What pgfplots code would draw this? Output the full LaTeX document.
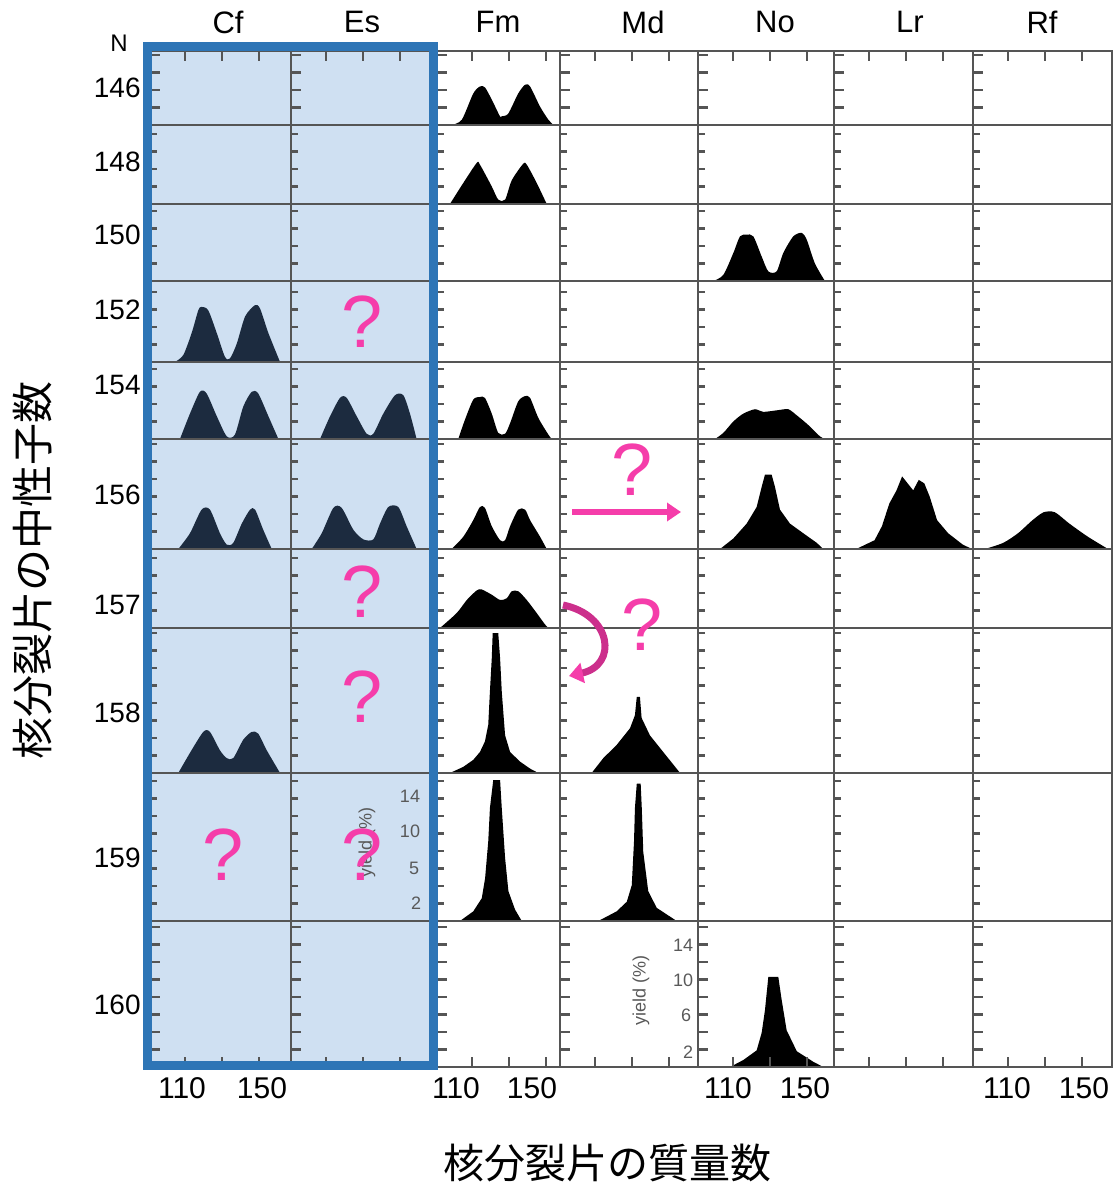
\documentclass[border=0pt]{standalone}
\usepackage{fontspec}
\setmainfont{Liberation Sans}
\newfontfamily\cjk{Noto Sans CJK JP}
\usepackage{pgfplots}
\pgfplotsset{compat=1.18}
\usetikzlibrary{arrows.meta}
\definecolor{lbg}{HTML}{CFE0F2}
\definecolor{bbox}{HTML}{2E75B6}
\definecolor{navy}{HTML}{1C2B3F}
\definecolor{qpink}{HTML}{F53DAA}
\definecolor{qmag}{HTML}{CC2F8C}
\definecolor{gline}{HTML}{555555}
\pgfplotsset{cell/.style={scale only axis, axis line style={gline, line width=1.25pt},
  xtick=\empty, ytick={2,4,...,16}, yticklabels={}, xticklabels={}, ytick pos=left,
  tick align=inside, major tick length=3.5pt, tick style={gline, line width=1.1pt},
  xmin=91, ymin=0, clip=true},
  hump/.style={smooth, tension=0.45}}
% #1 column index, #2 row index, #3 options, #4 plots
\newcommand\cell[4]{%
 \pgfmathsetmacro\cL{{150,291,437,560,698,834,973}[#1]}%
 \pgfmathsetmacro\cW{{141,146,123,138,136,139,139}[#1]}%
 \pgfmathsetmacro\rT{{51,125,204,281,362,439,549,628,773,921}[#2]}%
 \pgfmathsetmacro\rH{{74,79,77,81,77,110,79,145,148,146}[#2]}%
 \pgfmathsetmacro\cXmax{91+\cW/1.85}%
 \pgfmathsetmacro\cYmax{\rH/8.75}%
 \pgfmathsetmacro\cWpt{\cW*0.5}%
 \pgfmathsetmacro\rHpt{\rH*0.5}%
 \pgfmathsetmacro\cLpt{\cL*0.5}%
 \pgfmathsetmacro\rTpt{-\rT*0.5}%
 \begin{axis}[cell, at={(\cLpt pt,\rTpt pt)}, anchor=north west,
   width=\cWpt pt, height=\rHpt pt, xmax=\cXmax, ymax=\cYmax, #3]
 #4
 \end{axis}}
\newcommand\dcell[4]{\cell{#1}{#2}{hide axis}{\addplot[draw=none,#3] coordinates {#4} \closedcycle;}}
\begin{document}
\begin{tikzpicture}[x=0.5pt,y=0.5pt]
\useasboundingbox (0,0) rectangle (1115,-1186);
\fill[lbg] (147,-46) rectangle (434,-1066);
% ---------- fission fragment mass yields (mass number, yield %) ----------
% Cf
\dcell{0}{3}{fill=navy,hump}{(104.5,0)(109,0.8)(113.5,3.3)(117.1,5.9)(118.9,6.3)(122.5,5.9)(127.1,3.3)(131.5,0.6)(134.2,0.4)(137.9,2.1)(142.4,5.2)(147.8,6.5)(150.5,6.1)(155,3.3)(161.3,0)}
\dcell{0}{4}{fill=navy,hump}{(107.2,0)(112.6,2.9)(118,5.4)(121.6,5.2)(127.1,2.6)(132.5,0.3)(136.9,0.5)(141.4,3.7)(146,5.4)(149.5,5.2)(155,2.6)(160.4,0)}
\dcell{0}{5}{fill=navy,hump}{(106.3,0)(112.6,1.8)(118.9,4.5)(123.4,4.5)(128.8,1.8)(132.5,0.5)(136,0.7)(140.6,2.9)(145.1,4.5)(147.8,4.5)(152.2,2.2)(156.8,0)}
\dcell{0}{7}{fill=navy,hump}{(106.3,0)(112.6,2.3)(119.8,4.7)(123.4,4.7)(128.8,2.6)(132.5,1.7)(136,1.7)(141.4,3.8)(146,4.7)(149.5,4.5)(154.1,2.6)(161.3,0)}
% Es
\dcell{1}{4}{fill=navy,hump}{(106.7,0)(112.1,2.6)(117.5,4.7)(121.1,4.7)(126.5,2.6)(131.9,0.6)(135.5,0.6)(140.9,2.9)(147.2,5.0)(151.7,5.0)(155.3,2.9)(158.9,0)}
\dcell{1}{5}{fill=navy,hump}{(102.2,0)(107.6,1.8)(113.9,4.7)(118.4,4.7)(124.7,2.2)(130.1,1.1)(135.5,1.1)(139.1,2.9)(143.6,4.8)(149,4.8)(153.5,2.6)(158.9,0)}
% Fm
\dcell{2}{0}{fill=black,hump}{(98.9,0)(104.4,0.6)(110.6,3.6)(114.2,4.4)(116.9,4.3)(120.6,2.9)(125,1.0)(126,1.0)(129.5,1.3)(134.9,3.6)(138.6,4.6)(141.3,4.4)(146.7,2.1)(151.2,0.6)(154,0)}
\dcell{2}{1}{fill=black,hump}{(98,0)(105.2,2.4)(112.5,4.7)(114.2,4.5)(120.6,2.0)(124.1,0.5)(127.8,0.5)(131.4,2.7)(137.6,4.6)(139.5,4.5)(144.9,2.4)(150.3,0)}
\dcell{2}{4}{fill=black,hump}{(102.5,0)(106.1,2.2)(110.6,4.5)(114.2,4.8)(116.9,4.7)(120.6,2.9)(124.1,0.7)(127.8,0.6)(130.5,1.8)(134.9,4.3)(138.6,4.9)(141.3,4.7)(145.8,2.4)(151.2,0.5)(153,0)}
\dcell{2}{5}{fill=black,hump}{(98.9,0)(105.2,1.4)(110.6,3.3)(114.2,4.8)(116.9,4.7)(120.6,2.6)(125.1,1.0)(127.8,1.0)(130.5,2.6)(134.9,4.5)(138.6,4.5)(141.3,3.3)(146.7,1.4)(150.3,0)}
\dcell{2}{6}{fill=black,hump}{(92.6,0)(101.6,1.7)(107.1,3.2)(112.5,4.3)(115.2,4.4)(120.6,3.8)(125.1,3.2)(128.7,3.4)(131.4,4.2)(134.9,4.2)(139.5,3.2)(144.9,1.7)(149.4,0.4)(151.2,0)}
\dcell{2}{7}{fill=black}{(98,0)(105.2,0.7)(110.6,1.5)(114.2,2.4)(116.9,3.6)(118.7,5.5)(119.6,9.3)(120.6,13.1)(121.1,16)(124.1,16)(125.1,13.1)(126,9.3)(127.8,4.3)(130.5,2.4)(135.9,1.3)(141.3,0.5)(145.8,0)}
\dcell{2}{8}{fill=black}{(103.4,0)(110.6,1.1)(115.2,2.6)(117,4.9)(118.7,9.1)(119.6,12.9)(121.4,16.1)(125.1,16.1)(126,12.9)(127.8,7.2)(129.6,3.4)(133.2,1.3)(136.8,0)}
% Md
\dcell{3}{7}{fill=black}{(108.1,0)(114.4,1.7)(121.6,3.2)(128.8,5.1)(131.5,6.6)(132.5,8.7)(134.2,8.7)(135.1,6.3)(139.6,4.3)(146.8,2.4)(155.9,0)}
\dcell{3}{8}{fill=black}{(111.7,0)(121.6,1.1)(127.1,2.2)(129.8,4.1)(131,9.1)(131.5,12.9)(132.5,15.7)(134.6,15.7)(135.2,12.9)(136,7.9)(138.7,3.4)(143.3,1.5)(154.1,0)}
% No
\dcell{4}{2}{fill=black,hump}{(99.3,0)(104.7,0.7)(110.1,3.2)(113.7,5.1)(117.3,5.3)(120.9,5.1)(125.4,2.8)(129,1.1)(133.5,1.1)(137.1,3.2)(142.5,5.1)(147.1,5.5)(149.8,4.7)(154.2,2.0)(159.6,0)}
\dcell{4}{4}{fill=black,hump}{(100.2,0)(104.7,0.7)(110.1,2.0)(115.5,2.9)(121.8,3.4)(126.3,3.1)(134.4,3.3)(139.8,3.4)(144.4,2.7)(150.6,1.6)(156.9,0.3)(159.6,0)}
\dcell{4}{5}{fill=black}{(102.9,0)(110.1,1.2)(117.3,2.9)(122.7,4.8)(125.4,7.1)(127.2,8.5)(130.8,8.5)(132.6,7.1)(135.3,4.5)(140.7,2.9)(147.9,1.8)(155.2,0.7)(158.7,0)}
\dcell{4}{9}{fill=black}{(108.3,0)(115.5,0.8)(122.7,1.9)(125.4,3.9)(127.2,6.5)(129,10.3)(134.4,10.3)(136.2,7.7)(138.9,4.2)(144.4,1.8)(153.3,0.6)(158.7,0)}
% Lr
\dcell{5}{5}{fill=black}{(103,0)(112.9,1.0)(116.9,2.6)(120.9,5.2)(124.8,6.7)(127.8,8.3)(130.8,7.5)(133.8,6.7)(136.8,7.9)(139.8,7.5)(142.7,6.0)(146.7,3.3)(152.7,1.8)(160.6,0.5)(165.6,0)}
% Rf
\dcell{6}{5}{fill=black,hump}{(97.4,0)(107.3,0.7)(115.3,1.8)(123.2,3.3)(129.2,4.2)(135.2,4.2)(143.1,2.9)(153.1,1.4)(164,0)}
% ---------- frames ----------
\foreach \c in {0,...,6}{\foreach \r in {0,...,9}{%
  \ifnum\r=0 \pgfplotsset{xo/.style={xtick={110,130,150}, xtick pos=right, major tick length=5pt}}%
  \else\ifnum\r=9 \pgfplotsset{xo/.style={xtick={110,130,150}, xtick pos=left, major tick length=5pt}}%
  \else \pgfplotsset{xo/.style={}}\fi\fi
  \cell{\c}{\r}{xo}{}%
}}
% ---------- blue box ----------
\draw[bbox, line width=4.5pt] (147.5,-46.5) rectangle (433.5,-1065.5);
% ---------- labels ----------
\begin{scope}[every node/.style={font=\fontsize{15.5}{16}\selectfont, inner sep=0pt}]
\node at (228,-22) {Cf};
\node at (362,-22) {Es};
\node at (498,-22) {Fm};
\node at (643,-22) {Md};
\node at (775,-22) {No};
\node at (910,-22) {Lr};
\node at (1042,-22) {Rf};
\end{scope}
\node[font=\fontsize{12}{13}\selectfont, inner sep=0pt] at (119,-43) {N};
\begin{scope}[every node/.style={font=\fontsize{14}{15}\selectfont, inner sep=0pt, anchor=east}]
\node at (141,-88) {146};
\node at (141,-162) {148};
\node at (141,-235) {150};
\node at (141,-310) {152};
\node at (141,-385) {154};
\node at (141,-495) {156};
\node at (141,-605) {157};
\node at (141,-713) {158};
\node at (141,-858) {159};
\node at (141,-1005) {160};
\end{scope}
\begin{scope}[every node/.style={font=\fontsize{15}{16}\selectfont, inner sep=0pt}]
\node at (182,-1088) {110};
\node at (262,-1088) {150};
\node at (456,-1088) {110};
\node at (532,-1088) {150};
\node at (728,-1088) {110};
\node at (805,-1088) {150};
\node at (1007,-1088) {110};
\node at (1084,-1088) {150};
\end{scope}
% small yield scales
\begin{scope}[every node/.style={font=\fontsize{9}{10}\selectfont, inner sep=0pt, text=black!65}]
\node[rotate=90] at (367,-842) {yield (\%)};
\node at (410,-796) {14};
\node at (410,-831) {10};
\node at (414,-868) {5};
\node at (416,-903) {2};
\node[rotate=90] at (641,-990) {yield (\%)};
\node at (683,-945) {14};
\node at (683,-980) {10};
\node at (686,-1015) {6};
\node at (688,-1052) {2};
\end{scope}
% axis titles
\node[font=\cjk\fontsize{21}{22}\selectfont, rotate=90, inner sep=0pt] at (33,-570) {核分裂片の中性子数};
\node[font=\cjk\fontsize{20.5}{22}\selectfont, inner sep=0pt] at (607,-1163) {核分裂片の質量数};
% pink question marks and arrows
\begin{scope}[every node/.style={font=\fontsize{37}{38}\selectfont, text=qpink, inner sep=0pt}]
\node at (362,-322) {?};
\node at (362,-592) {?};
\node at (362,-697) {?};
\node at (362,-855) {?};
\node at (223,-855) {?};
\node at (632,-470) {?};
\node at (642,-625) {?};
\end{scope}
\draw[qpink, line width=3pt, -{Triangle[length=7pt,width=9pt]}] (572,-512) -- (681,-512);
\draw[qmag, line width=3.5pt, -{Triangle[length=7pt,width=10pt,color=qpink]}] (563,-605) .. controls (612,-615) and (618,-665) .. (569,-676);
\end{tikzpicture}
\end{document}
